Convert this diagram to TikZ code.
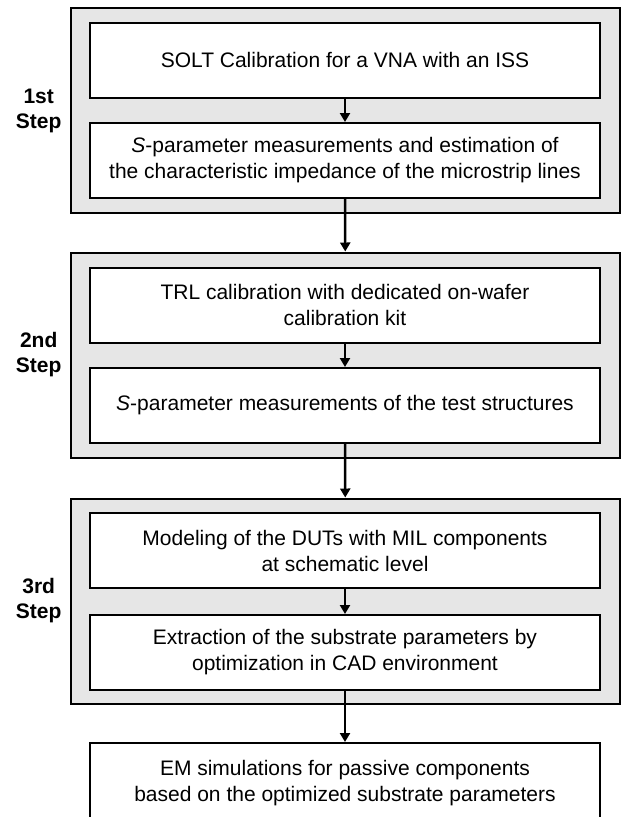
\documentclass[tikz,border=0pt]{standalone}
\usepackage{fontspec}
\setmainfont{Liberation Sans}
\usetikzlibrary{arrows.meta, positioning}
\definecolor{framegray}{RGB}{230,230,230}
\tikzstyle{stepframe} = [rectangle, minimum width=549pt, minimum height=205pt, draw=black, line width=2pt, fill=framegray]
\tikzstyle{task} = [rectangle, minimum width=510pt, minimum height=75pt, text centered, align=center, draw=black, line width=2pt, fill=white, font=\fontsize{21}{26}\selectfont]
\tikzstyle{steplabel} = [align=center, font=\fontsize{21}{25}\selectfont\bfseries]
\tikzstyle{arrow} = [line width=2.5pt, -{Triangle[length=9pt, width=10pt]}]

\begin{document}
\begin{tikzpicture}[x=1pt, y=-1pt]
\useasboundingbox (0,0) rectangle (624,817);
% step frames
\node (frame1) [stepframe] at (345.5,110.5) {};
\node (frame2) [stepframe] at (345.5,355) {};
\node (frame3) [stepframe] at (345.5,601) {};
\node (lab1) [steplabel, left=5pt of frame1] {1st\\Step};
\node (lab2) [steplabel, left=5pt of frame2] {2nd\\Step};
\node (lab3) [steplabel, left=5pt of frame3] {3rd\\Step};
% tasks
\node (solt) [task] at (345,60) {SOLT Calibration for a VNA with an ISS};
\node (zchar) [task] at (345,160.5) {\textit{S}-parameter measurements and estimation of\\the characteristic impedance of the microstrip lines};
\node (trl) [task] at (345,305) {TRL calibration with dedicated on-wafer\\calibration kit};
\node (meas) [task] at (345,405.5) {\textit{S}-parameter measurements of the test structures};
\node (model) [task] at (345,550.5) {Modeling of the DUTs with MIL components\\at schematic level};
\node (extr) [task] at (345,652.5) {Extraction of the substrate parameters by\\optimization in CAD environment};
\node (emsim) [task, minimum height=80pt] at (345,783) {EM simulations for passive components\\based on the optimized substrate parameters};
% arrows
\draw [arrow] (solt) -- (zchar);
\draw [arrow] (zchar) -- (frame2);
\draw [arrow] (trl) -- (meas);
\draw [arrow] (meas) -- (frame3);
\draw [arrow] (model) -- (extr);
\draw [arrow] (extr) -- (emsim);
\end{tikzpicture}
\end{document}
